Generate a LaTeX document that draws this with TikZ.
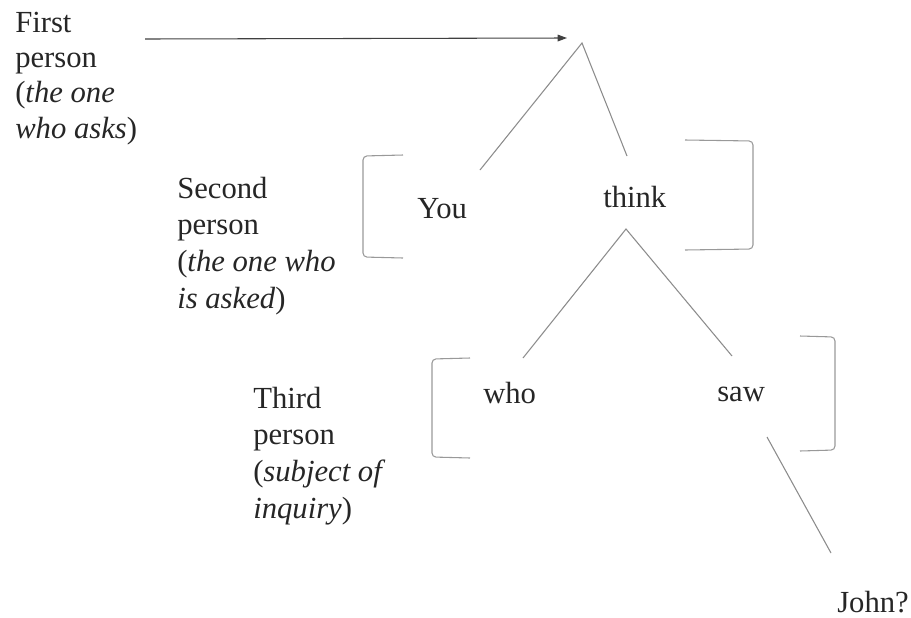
\documentclass[tikz,border=0pt]{standalone}
\usepackage{fontspec}
\setmainfont{Liberation Serif}
\usetikzlibrary{arrows.meta}

\begin{document}
\begin{tikzpicture}[
  x=0.75pt, y=-0.75pt,
  person text/.style={anchor=base west, inner sep=0pt, align=left,
    font=\fontsize{23}{27.5}\selectfont, text=black!85},
  word/.style={person text},
  branch/.style={color=black!45, line width=.8pt},
  bracket/.style={color=black!40, line width=.8pt, rounded corners=3},
  asks/.style={color=black!75, line width=.8pt, -{Triangle[length=7pt,width=5pt]}},
  ]
  \useasboundingbox (0,0) rectangle (911,618);

  % who is who (anchored at the last line)
  \node[person text, font=\fontsize{23}{26.5}\selectfont] (first) at (15,138) {First\\person\\(\textit{the one}\\\textit{who asks})};
  \node[person text] (second) at (177,308) {Second\\person\\(\textit{the one who}\\\textit{is asked})};
  \node[person text] (third)  at (253,518) {Third\\person\\(\textit{subject of}\\\textit{inquiry})};

  % the tree
  \node[word] (you)   at (417,218) {You};
  \node[word] (think) at (603,207) {think};
  \node[word] (who)   at (483,403) {who};
  \node[word] (saw)   at (717,401) {saw};
  \node[word] (john)  at (837,612) {John?};

  \coordinate (top)      at (582,43);
  \coordinate (top you)  at (480,170);
  \coordinate (top think) at (627,156);
  \coordinate (vp)       at (626,229);
  \coordinate (vp who)   at (523,358);
  \coordinate (vp saw)   at (732,356);
  \coordinate (saw top)  at (767,437);
  \coordinate (saw john) at (831,553);

  \draw[branch] (top you) -- (top) -- (top think);
  \draw[branch] (vp who) -- (vp) -- (vp saw);
  \draw[branch] (saw top) -- (saw john);

  \coordinate (asker) at (145,39);
  \coordinate (asked) at (567,38);
  \draw[asks] (asker) -- (asked);

  % brackets
  \draw[bracket] (403,155) -- (363,156) -- (363,257) -- (403,258);
  \draw[bracket] (685,140) -- (753,141) -- (753,249) -- (685,250);
  \draw[bracket] (470,358) -- (432,359) -- (432,457) -- (470,458);
  \draw[bracket] (800,336) -- (835,337) -- (835,450) -- (800,451);

\end{tikzpicture}
\end{document}
